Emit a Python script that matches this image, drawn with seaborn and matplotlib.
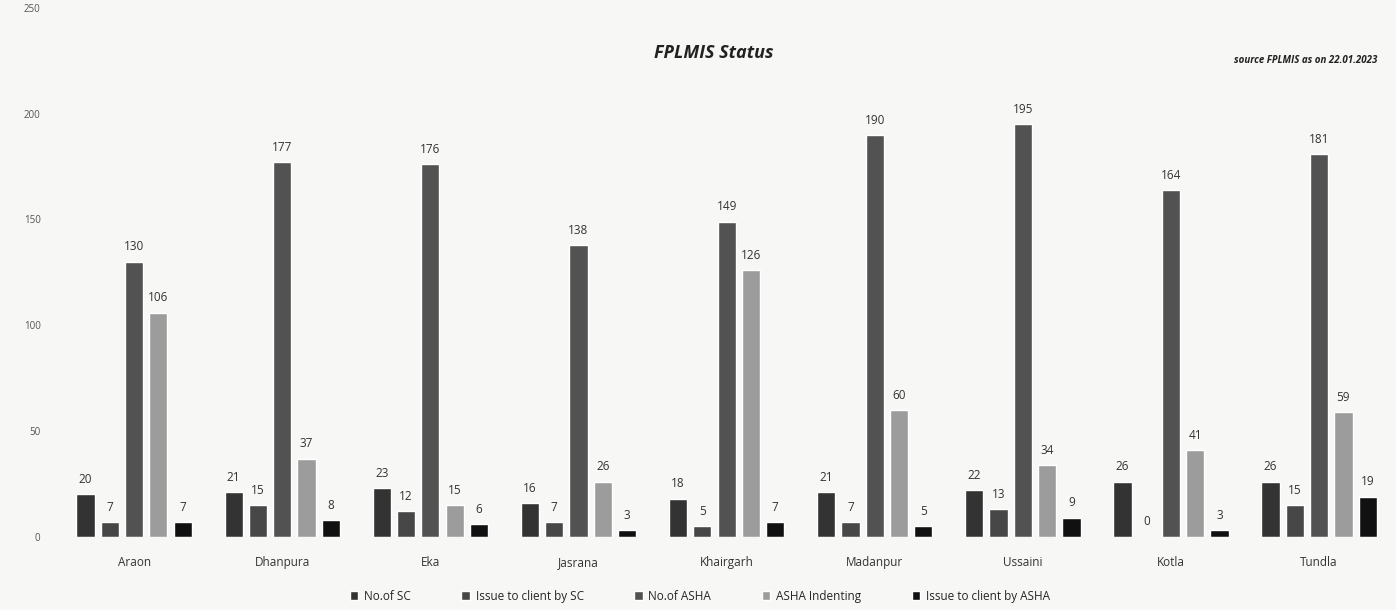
import pandas as pd
import matplotlib.pyplot as plt
import seaborn as sns

blocks = ['Araon', 'Dhanpura', 'Eka', 'Jasrana', 'Khairgarh', 'Madanpur', 'Ussaini', 'Kotla', 'Tundla']
no_of_sc = [20, 21, 23, 16, 18, 21, 22, 26, 26]
issue_by_sc = [7, 15, 12, 7, 5, 7, 13, 0, 15]
no_of_asha = [130, 177, 176, 138, 149, 190, 195, 164, 181]
asha_indenting = [106, 37, 15, 26, 126, 60, 34, 41, 59]
issue_by_asha = [7, 8, 6, 3, 7, 5, 9, 3, 19]

series = ['No.of SC', 'Issue to client by SC', 'No.of ASHA', 'ASHA Indenting', 'Issue to client by ASHA']
colors = ['#333333', '#474747', '#525252', '#9c9c9c', '#111111']

df = pd.DataFrame({'Block': blocks, series[0]: no_of_sc, series[1]: issue_by_sc,
                   series[2]: no_of_asha, series[3]: asha_indenting, series[4]: issue_by_asha})
long_df = df.melt(id_vars='Block', var_name='Series', value_name='Value')

sns.set_style('white')
plt.rcParams['font.family'] = ['Open Sans', 'DejaVu Sans']

fig = plt.figure(figsize=(13.96, 6.10), dpi=100, facecolor='#f7f7f5')
ax = fig.add_axes([0.043, 0.12, 0.955, 0.867])
ax.set_facecolor('#f7f7f5')

sns.barplot(data=long_df, x='Block', y='Value', hue='Series', palette=colors,
            width=0.82, gap=0.25, ax=ax, errorbar=None)

for c in ax.containers:
    ax.bar_label(c, padding=6, fontsize=8.5, color='#333333')

ax.set_ylim(0, 250)
ax.set_yticks([0, 50, 100, 150, 200, 250])
ax.tick_params(axis='y', labelsize=7, colors='#555555', length=0, pad=14)
ax.tick_params(axis='x', labelsize=8.5, colors='#333333', length=0, pad=14)
ax.set_xlabel('')
ax.set_ylabel('')
sns.despine(ax=ax, left=True, bottom=True)
ax.axhline(0, color='#dddddd', lw=0.8)

fig.text(0.511, 0.905, 'FPLMIS Status', ha='center', fontsize=13, fontweight='bold',
         fontstyle='italic', color='#222222')
fig.text(0.987, 0.896, 'source FPLMIS as on 22.01.2023', ha='right', fontsize=7,
         fontweight='bold', fontstyle='italic', color='#222222')

ax.legend(loc='upper center', bbox_to_anchor=(0.48, -0.08), ncol=5, frameon=False,
          fontsize=8.5, handlelength=0.7, handleheight=0.7, columnspacing=4.3, handletextpad=0.5)

plt.savefig('out.png', dpi=100, facecolor=fig.get_facecolor())
